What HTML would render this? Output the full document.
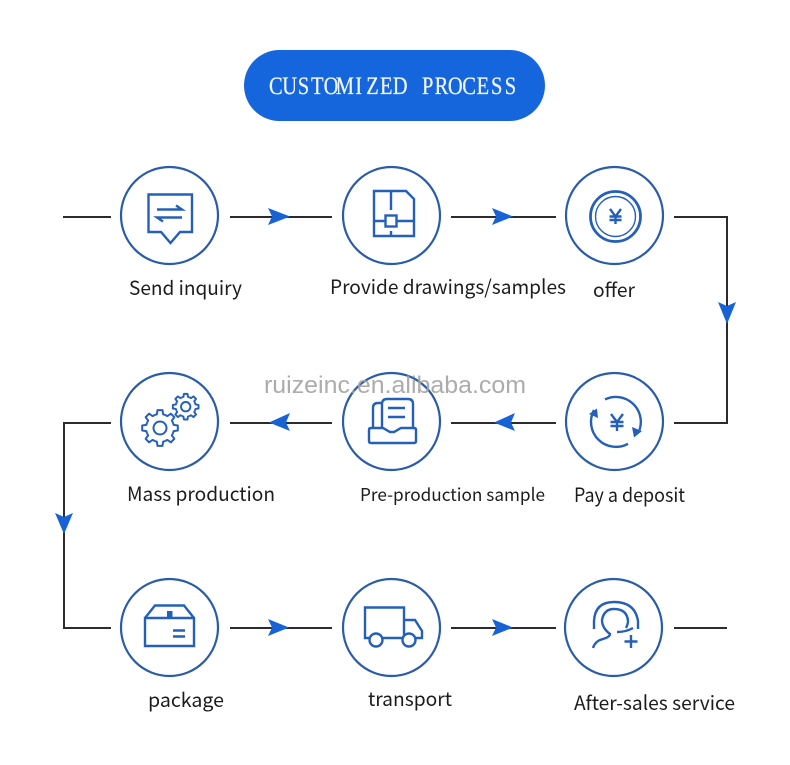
<!DOCTYPE html>
<html>
<head>
<meta charset="utf-8">
<style>
html,body{margin:0;padding:0;background:#fff;width:790px;height:765px;overflow:hidden}
svg{display:block}
.lb{font-family:"Noto Sans CJK SC","Liberation Sans",sans-serif;font-size:19.5px;fill:#1c1c1c}
.c{fill:none;stroke:#2a5ca8;stroke-width:2.2}
.i{fill:none;stroke:#2560b8;stroke-width:2.4}
.l{fill:none;stroke:#2b2b30;stroke-width:2}
.a{fill:#1763d6}
.f{fill:#2560b8}
</style>
</head>
<body>
<svg width="790" height="765" viewBox="0 0 790 765" xmlns="http://www.w3.org/2000/svg">
<defs>
<path id="t" d="M-5.36 -12.93L-3.15 -13.64L-2.5 -17.82L2.5 -17.82L3.15 -13.64L5.36 -12.93" fill="none" stroke-linejoin="round"/>
<g id="gear">
<use href="#t"/>
<use href="#t" transform="rotate(45)"/>
<use href="#t" transform="rotate(90)"/>
<use href="#t" transform="rotate(135)"/>
<use href="#t" transform="rotate(180)"/>
<use href="#t" transform="rotate(225)"/>
<use href="#t" transform="rotate(270)"/>
<use href="#t" transform="rotate(315)"/>
</g>
</defs>

<rect x="244" y="50" width="301" height="71" rx="35.5" fill="#1565dc"/>
<g transform="translate(269,94) scale(0.82,1)">
<text font-family="'Liberation Serif','Noto Serif CJK SC',serif" font-size="25" fill="#eef5ff" stroke="#eef5ff" stroke-width="0.25" text-anchor="middle" x="8.4 25.2 42.1 58.9 75.7 92.6 109.4 126.2 143 159.9 176.7 193.5 210.4 227.2 244 260.9 277.7 294.5">CUSTOMIZED PROCESS</text>
</g>

<!-- connectors -->
<path class="l" d="M63 217H111M230 217H332M451 217H556M674 217H727V423H674M556 423H451M332 423H230M111 423H64V628H111M230 628H332M451 628H556M674 628H727"/>

<!-- arrowheads -->
<path class="a" d="M268 208L290 216.500L268 225L272 216.500Z"/>
<path class="a" d="M492 208L513 216.500L492 225L496 216.500Z"/>
<path class="a" d="M718 302L727 324L736 302L727 306Z"/>
<path class="a" d="M515 413L494 422.500L515 431L511 422.500Z"/>
<path class="a" d="M290 413L269 422.500L290 431L286 422.500Z"/>
<path class="a" d="M55 513L64 534L73 513L64 517Z"/>
<path class="a" d="M268 619L289 627.500L268 636L272 627.500Z"/>
<path class="a" d="M492 619L513 627.500L492 636L496 627.500Z"/>

<!-- circles -->
<circle class="c" cx="169.500" cy="215.500" r="48.500"/>
<circle class="c" cx="391.500" cy="215.500" r="48.500"/>
<circle class="c" cx="614.500" cy="215.500" r="48.500"/>
<circle class="c" cx="169.500" cy="421.500" r="48.500"/>
<circle class="c" cx="391.500" cy="421.500" r="48.500"/>
<circle class="c" cx="614.500" cy="421.500" r="48.500"/>
<circle class="c" cx="169.500" cy="627.500" r="48.500"/>
<circle class="c" cx="391.500" cy="627.500" r="48.500"/>
<circle class="c" cx="613.500" cy="627.500" r="48.500"/>

<!-- send inquiry -->
<path class="i" d="M148.500 194.500H192V232H180L170.500 243L161 232H148.500Z"/>
<path class="i" stroke-width="2" d="M157 209.500H182L176 205.500M182 217.500H157L163 221.500"/>

<!-- drawings -->
<path class="i" stroke-width="2.800" d="M374 191H406L414 199V236H374Z"/>
<path class="i" d="M391 191V210M374 221H385M397 221H414M391 231V236"/>
<rect class="i" x="385.500" y="215.500" width="11" height="11"/>

<!-- offer -->
<circle cx="615.500" cy="216.500" r="25" fill="none" stroke="#2560b8" stroke-width="2.800"/>
<circle cx="615.500" cy="216.500" r="20" fill="none" stroke="#2560b8" stroke-width="1.400"/>
<path class="i" stroke-width="2.400" d="M610 209L615.500 216.500L621 209M615.500 216.500V224M609.500 216.500H621.500M609.500 220H621.500"/>

<!-- gears -->
<g stroke="#2560b8" fill="none">
<g transform="translate(160,428)" stroke-width="2"><use href="#gear"/><circle r="6.500"/></g>
<g transform="translate(185.700,406.700) scale(0.72)" stroke-width="2.700"><use href="#gear"/><circle r="6.500"/></g>
</g>

<!-- tray -->
<path class="i" d="M382 428V404Q382 399 387 399H408Q413 399 413 404V428"/>
<path class="i" d="M382 403H378Q373 403 373 408V428"/>
<path class="i" d="M371 428H383L390 432H394L401 428H414Q416 428 416 430V441Q416 443 414 443H371Q369 443 369 441V430Q369 428 371 428Z"/>
<path class="i" d="M388 408H405M388 417H405"/>

<!-- deposit -->
<path class="i" stroke-width="3" d="M628 443.800A25 25 0 0 1 594 410"/>
<path class="i" stroke-width="3" d="M605 399.400A25 25 0 0 1 639.500 430"/>
<path class="f" d="M597 408.500L589 414L598 418Z"/>
<path class="f" d="M634 437.500L632 427L642 431Z"/>
<path class="i" d="M611 414L617 422L623 414M617 422V431M610.500 422H623.500M610.500 426H623.500"/>

<!-- box -->
<path class="i" stroke-width="2.600" d="M145 618H194V646H145ZM145 618L155 605.500H184L194 618"/>
<rect x="167" y="611" width="5.500" height="7" class="f"/>
<path class="i" stroke-width="2" d="M173 630.500H185M173 636.500H185"/>

<!-- truck -->
<path class="i" stroke-width="2" d="M369 638H365V607.500H404V638H382M404 620H415L422 631V638H416"/>
<circle class="i" stroke-width="2" cx="376" cy="640" r="6.500" style="fill:#fff"/>
<circle class="i" stroke-width="2" cx="409" cy="640" r="6.500" style="fill:#fff"/>

<!-- after-sales -->
<path class="i" stroke-width="2" d="M594 629V621Q595 602 614 602Q635 602 638 621V629"/>
<path class="i" stroke-width="2" d="M593 648Q595 641 603 639Q610 637 610 634Q602 628 602 620Q604 609 614 609Q627 609 628 621Q628 624 626 628"/>
<path class="i" stroke-width="2" d="M617 632Q626 632 633 628"/>
<path class="i" d="M631 635V648M624.500 641.500H637.500"/>

<!-- labels -->
<text class="lb" x="129" y="295" textLength="113" lengthAdjust="spacingAndGlyphs">Send inquiry</text>
<text class="lb" x="330" y="294" textLength="236" lengthAdjust="spacingAndGlyphs">Provide drawings/samples</text>
<text class="lb" x="593" y="297" textLength="42" lengthAdjust="spacingAndGlyphs">offer</text>
<text class="lb" x="127" y="501" textLength="148" lengthAdjust="spacingAndGlyphs">Mass production</text>
<text class="lb" style="font-size:17.500px" x="360" y="501" textLength="185" lengthAdjust="spacingAndGlyphs">Pre-production sample</text>
<text class="lb" x="574" y="502" textLength="111" lengthAdjust="spacingAndGlyphs">Pay a deposit</text>
<text class="lb" x="148" y="707" textLength="76" lengthAdjust="spacingAndGlyphs">package</text>
<text class="lb" x="368" y="706" textLength="84" lengthAdjust="spacingAndGlyphs">transport</text>
<text class="lb" x="574" y="710" textLength="161" lengthAdjust="spacingAndGlyphs">After-sales service</text>

<!-- watermark -->
<text x="264" y="393" font-family="'Liberation Sans',sans-serif" font-size="24" fill="#a3a3a3" fill-opacity="0.9" textLength="262" lengthAdjust="spacingAndGlyphs">ruizeinc.en.alibaba.com</text>
</svg>
</body>
</html>
